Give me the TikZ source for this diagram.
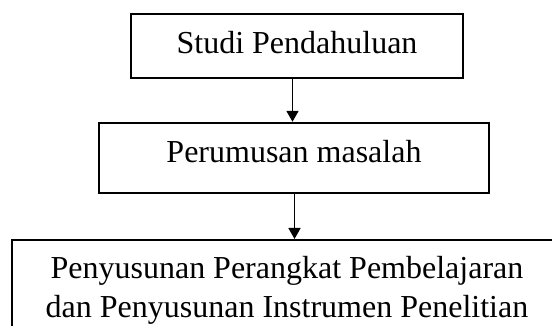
\documentclass[tikz,border=0pt]{standalone}
\usepackage{fontspec}
\setmainfont{Liberation Serif}
\usetikzlibrary{arrows.meta}
\begin{document}
\begin{tikzpicture}[x=1pt,y=-1pt,
  boxst/.style={draw=black, line width=1.8pt, inner sep=0pt, font=\fontsize{32}{38.7}\selectfont},
  arr/.style={line width=1.8pt, -{Triangle[length=11pt,width=12pt]}}]
\useasboundingbox (0,0) rectangle (552,326);
\node[boxst, minimum width=332pt, minimum height=63.4pt, text height=22pt, text depth=7.4pt] (b1) at (297,46) {Studi Pendahuluan};
\node[boxst, minimum width=390pt, minimum height=70.6pt, text height=22pt, text depth=12pt] (b2) at (294,158) {Perumusan masalah};
\node[boxst, anchor=north west, minimum width=560pt, minimum height=120pt] (b3) at (11,239) {};
\node[font=\fontsize{32}{38.7}\selectfont, align=center, inner sep=0pt, anchor=north] (t3) at (287,256.5) {Penyusunan Perangkat Pembelajaran\\dan Penyusunan Instrumen Penelitian};
\coordinate (x1) at (292.5,0);
\coordinate (x2) at (294.5,0);
\draw[arr] (b1.south -| x1) -- (b2.north -| x1);
\draw[arr] (b2.south -| x2) -- (b3.north -| x2);
\end{tikzpicture}
\end{document}
